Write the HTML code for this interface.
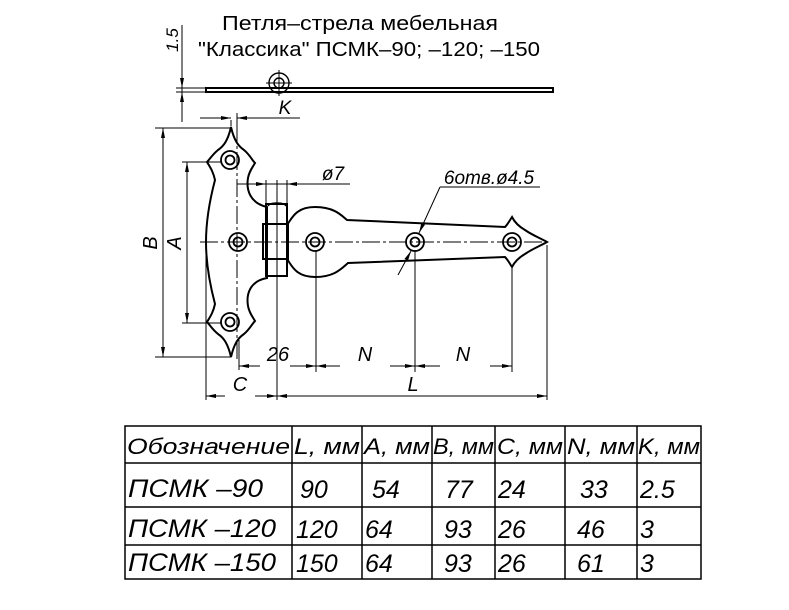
<!DOCTYPE html>
<html><head><meta charset="utf-8"><style>
html,body{margin:0;padding:0;background:#fff}
svg{display:block}
text{font-family:"Liberation Sans","DejaVu Sans",sans-serif;font-style:italic;fill:#000}
</style></head><body>
<svg width="789" height="610" viewBox="0 0 789 610" xmlns="http://www.w3.org/2000/svg">
<defs>
<marker id="ar" markerWidth="10" markerHeight="6" refX="10" refY="3" orient="auto" markerUnits="userSpaceOnUse"><path d="M0,1 L10,3 L0,5 Z" fill="#000"/></marker>
</defs>
<g stroke="#000" fill="none" stroke-width="1.5">
<!-- title -->
<text x="222" y="30" font-size="20" stroke="none" style="font-style:normal" textLength="276" lengthAdjust="spacingAndGlyphs">Петля–стрела мебельная</text>
<text x="198" y="56" font-size="20" stroke="none" style="font-style:normal" textLength="342" lengthAdjust="spacingAndGlyphs">"Классика"  ПСМК–90; –120; –150</text>
<!-- top view -->
<rect x="206" y="88" width="347" height="4" stroke-width="2"/>
<circle cx="279" cy="83" r="10" stroke-width="1.4"/>
<circle cx="279" cy="83" r="5" stroke-width="1.4"/>
<line x1="266" y1="83" x2="292" y2="83" stroke-width="1"/>
<line x1="279" y1="70" x2="279" y2="96" stroke-width="1"/>
<line x1="182" y1="25" x2="182" y2="122" stroke-width="1"/>
<line x1="176" y1="88" x2="206" y2="88" stroke-width="1"/>
<line x1="176" y1="92" x2="206" y2="92" stroke-width="1"/>
<line x1="182" y1="70" x2="182" y2="88" stroke-width="1" marker-end="url(#ar)"/>
<line x1="182" y1="110" x2="182" y2="92" stroke-width="1" marker-end="url(#ar)"/>
<text x="178" y="40" font-size="17" stroke="none" transform="rotate(-90 178 40)" text-anchor="middle">1.5</text>
<line x1="231" y1="120" x2="231" y2="126" stroke-width="1"/>
<line x1="237" y1="113" x2="237" y2="126" stroke-width="1"/>
<line x1="200" y1="118" x2="231" y2="118" stroke-width="1" marker-end="url(#ar)"/>
<line x1="300" y1="118" x2="237" y2="118" stroke-width="1" marker-end="url(#ar)"/>
<text x="285" y="114" font-size="19" stroke="none" text-anchor="middle">K</text>

<!-- vertical leaf -->
<path d="M231,127 C234,140 238,146 244,150 C250,155 252,160 255,163 C252,168 249,172 248,178 C246,190 250,203 267,207 L267,278 C250,281 246,294 248,306 C249,312 252,316 255,321 C252,324 250,329 244,334 C238,338 234,344 231,357 C228,344 224,338 218,334 C212,329 210,325 207,322 C210,317 213,313 215,304 C210,285 206,265 206,242 C206,219 210,199 215,180 C213,171 210,167 207,162 C210,159 212,155 218,150 C224,146 228,140 231,127 Z" stroke-width="2"/>
<!-- knuckle -->
<rect x="266" y="204" width="21" height="72" stroke-width="2"/>
<rect x="263" y="224" width="25" height="35" stroke-width="2"/>
<path d="M268,206 C270,202 284,202 286,206" stroke-width="1.4"/>
<!-- horizontal leaf -->
<path d="M287,225 C292,218 296,207 315,207 C335,207 342,216 347,220 L505,227 C508,224 510,220 512,217 C514,221 518,226 525,230 C532,235 540,238 547,242 C540,246 532,249 525,254 C518,258 514,263 512,267 C510,264 508,260 505,257 L348,263 C342,268 335,277 315,277 C296,277 292,266 287,259" stroke-width="2"/>
<!-- holes -->
<g stroke-width="1.8">
<circle cx="230" cy="160" r="9"/><circle cx="230" cy="160" r="4.5"/>
<circle cx="238" cy="242" r="9"/><circle cx="238" cy="242" r="4.5"/>
<circle cx="230" cy="322" r="9"/><circle cx="230" cy="322" r="4.5"/>
<circle cx="315" cy="242" r="9"/><circle cx="315" cy="242" r="4.5"/>
<circle cx="415" cy="242" r="9"/><circle cx="415" cy="242" r="4.5"/>
<circle cx="512" cy="242" r="9"/><circle cx="512" cy="242" r="4.5"/>
</g>
<!-- centerlines -->
<line x1="200" y1="242" x2="547" y2="242" stroke-width="1" stroke-dasharray="18,3,3,3"/>
<line x1="237" y1="125" x2="237" y2="360" stroke-width="1" stroke-dasharray="18,3,3,3"/>
<line x1="277" y1="180" x2="277" y2="400" stroke-width="1"/>
<!-- B, A dims -->
<line x1="155" y1="128" x2="231" y2="128" stroke-width="1"/>
<line x1="155" y1="357" x2="231" y2="357" stroke-width="1"/>
<line x1="163" y1="145" x2="163" y2="128" stroke-width="1" marker-end="url(#ar)"/>
<line x1="163" y1="145" x2="163" y2="357" stroke-width="1" marker-end="url(#ar)"/>
<line x1="182" y1="162" x2="222" y2="162" stroke-width="1"/>
<line x1="182" y1="323" x2="222" y2="323" stroke-width="1"/>
<line x1="187" y1="180" x2="187" y2="162" stroke-width="1" marker-end="url(#ar)"/>
<line x1="187" y1="180" x2="187" y2="323" stroke-width="1" marker-end="url(#ar)"/>
<text x="157" y="243" font-size="20" stroke="none" text-anchor="middle" transform="rotate(-90 157 243)">B</text>
<text x="181" y="243" font-size="20" stroke="none" text-anchor="middle" transform="rotate(-90 181 243)">A</text>
<!-- phi7 -->
<line x1="237" y1="184" x2="350" y2="184" stroke-width="1"/>
<line x1="266" y1="180" x2="266" y2="204" stroke-width="1"/>
<line x1="287" y1="180" x2="287" y2="204" stroke-width="1"/>
<line x1="252" y1="184" x2="266" y2="184" stroke-width="1" marker-end="url(#ar)"/>
<line x1="302" y1="184" x2="287" y2="184" stroke-width="1" marker-end="url(#ar)"/>
<text x="333" y="180" font-size="19" stroke="none" text-anchor="middle">ø7</text>
<!-- 6 otv -->
<line x1="540" y1="187" x2="440" y2="187" stroke-width="1"/>
<line x1="440" y1="187" x2="419" y2="233" stroke-width="1" marker-end="url(#ar)"/>
<line x1="398" y1="275" x2="411" y2="251" stroke-width="1" marker-end="url(#ar)"/>
<text x="489" y="184" font-size="19" stroke="none" text-anchor="middle">6отв.ø4.5</text>
<!-- bottom dims -->
<line x1="206" y1="250" x2="206" y2="400" stroke-width="1"/>
<line x1="239" y1="340" x2="239" y2="370" stroke-width="1"/>
<line x1="316" y1="250" x2="316" y2="372" stroke-width="1"/>
<line x1="415" y1="250" x2="415" y2="372" stroke-width="1"/>
<line x1="512" y1="268" x2="512" y2="372" stroke-width="1"/>
<line x1="547" y1="245" x2="547" y2="400" stroke-width="1"/>
<line x1="260" y1="366" x2="239" y2="366" stroke-width="1" marker-end="url(#ar)"/>
<line x1="290" y1="366" x2="316" y2="366" stroke-width="1" marker-end="url(#ar)"/>
<line x1="340" y1="366" x2="316" y2="366" stroke-width="1" marker-end="url(#ar)"/>
<line x1="390" y1="366" x2="415" y2="366" stroke-width="1" marker-end="url(#ar)"/>
<line x1="440" y1="366" x2="415" y2="366" stroke-width="1" marker-end="url(#ar)"/>
<line x1="490" y1="366" x2="512" y2="366" stroke-width="1" marker-end="url(#ar)"/>
<text x="278" y="361" font-size="20" stroke="none" text-anchor="middle">26</text>
<text x="365" y="361" font-size="20" stroke="none" text-anchor="middle">N</text>
<text x="463" y="361" font-size="20" stroke="none" text-anchor="middle">N</text>
<line x1="225" y1="396" x2="206" y2="396" stroke-width="1" marker-end="url(#ar)"/>
<line x1="255" y1="396" x2="277" y2="396" stroke-width="1" marker-end="url(#ar)"/>
<line x1="300" y1="396" x2="277" y2="396" stroke-width="1" marker-end="url(#ar)"/>
<line x1="300" y1="396" x2="547" y2="396" stroke-width="1" marker-end="url(#ar)"/>
<text x="240" y="391" font-size="20" stroke="none" text-anchor="middle">C</text>
<text x="413" y="391" font-size="20" stroke="none" text-anchor="middle">L</text>

<!-- table -->
<g stroke-width="1.5">
<rect x="125" y="426" width="576" height="153"/>
<line x1="125" y1="463" x2="701" y2="463"/>
<line x1="125" y1="507" x2="701" y2="507"/>
<line x1="125" y1="545" x2="701" y2="545"/>
<line x1="292" y1="426" x2="292" y2="579"/>
<line x1="362" y1="426" x2="362" y2="579"/>
<line x1="432" y1="426" x2="432" y2="579"/>
<line x1="495" y1="426" x2="495" y2="579"/>
<line x1="565" y1="426" x2="565" y2="579"/>
<line x1="637" y1="426" x2="637" y2="579"/>
</g>
<g stroke="none" font-size="22">
<text x="127" y="454" textLength="163" lengthAdjust="spacingAndGlyphs">Обозначение</text>
<text x="294" y="454" textLength="66" lengthAdjust="spacingAndGlyphs">L, мм</text>
<text x="364" y="454" textLength="66" lengthAdjust="spacingAndGlyphs">A, мм</text>
<text x="433" y="454" textLength="61" lengthAdjust="spacingAndGlyphs">B, мм</text>
<text x="497" y="454" textLength="66" lengthAdjust="spacingAndGlyphs">C, мм</text>
<text x="567" y="454" textLength="68" lengthAdjust="spacingAndGlyphs">N, мм</text>
<text x="638" y="454" textLength="62" lengthAdjust="spacingAndGlyphs">K, мм</text>
<g font-size="25">
<text x="128" y="497" textLength="135" lengthAdjust="spacingAndGlyphs">ПСМК –90</text>
<text x="300" y="498">90</text><text x="372" y="498">54</text><text x="445" y="498">77</text><text x="498" y="498">24</text><text x="580" y="498">33</text><text x="640" y="498">2.5</text>
<text x="128" y="537" textLength="148" lengthAdjust="spacingAndGlyphs">ПСМК –120</text>
<text x="296" y="538">120</text><text x="365" y="538">64</text><text x="444" y="538">93</text><text x="498" y="538">26</text><text x="577" y="538">46</text><text x="640" y="538">3</text>
<text x="128" y="571" textLength="148" lengthAdjust="spacingAndGlyphs">ПСМК –150</text>
<text x="296" y="572">150</text><text x="365" y="572">64</text><text x="444" y="572">93</text><text x="498" y="572">26</text><text x="577" y="572">61</text><text x="640" y="572">3</text>
</g>
</g>
</g>
</svg>
</body></html>
